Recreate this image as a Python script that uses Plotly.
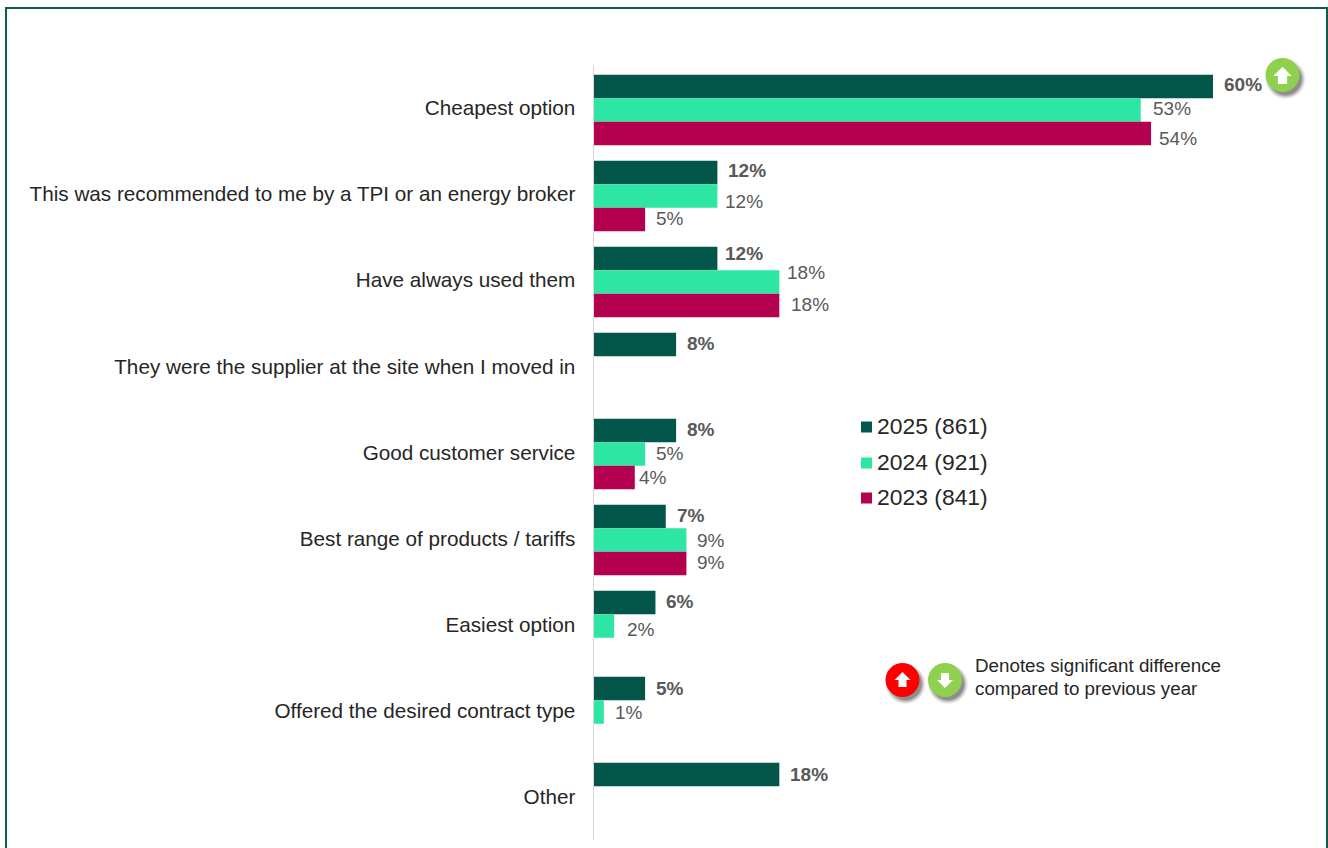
import plotly.graph_objects as go

categories = [
    "Cheapest option",
    "This was recommended to me by a TPI or an energy broker",
    "Have always used them",
    "They were the supplier at the site when I moved in",
    "Good customer service",
    "Best range of products / tariffs",
    "Easiest option",
    "Offered the desired contract type",
    "Other",
]
values_2025 = [60, 12, 12, 8, 8, 7, 6, 5, 18]
values_2024 = [53, 12, 18, None, 5, 9, 2, 1, None]
values_2023 = [54, 5, 18, None, 4, 9, None, None, None]
series_names = ["2025 (861)", "2024 (921)", "2023 (841)"]
note_lines = ["Denotes significant difference", "compared to previous year"]

# Page size and plot frame, in pixels
W, H = 1328, 848
PLOT_LEFT, PLOT_TOP, PLOT_BOTTOM = 593.5, 65, 840
PX_PER_PCT = 619.5 / 60
X_MAX = 70
BAND_PX = 86.0
BAR_DROP = 2 / BAND_PX  # bars sit slightly below the centre of their band
TICK_BAND_PX = 86.1     # category labels run on a slightly wider pitch than the bars

DARK = "#03564A"
MINT = "#2DE6A3"
CRIMSON = "#B5004F"
RED = "#FF0000"
LEAF = "#8FD14F"
BORDER = "#0B5D4E"
LABEL_GREY = "#595959"
TEXT = "#262626"
FONT = "Liberation Sans"


def px(x):
    return x / W


def py(y):
    return 1 - y / H


series = [
    (series_names[0], values_2025, DARK),
    (series_names[1], values_2024, MINT),
    (series_names[2], values_2023, CRIMSON),
]

# Label displacement from the end of each bar: (right, down) in pixels
nudges = [
    [(10, -1.5), (10, -1.5), (7, -4.5), (10, -1), (10, -1), (10, -1), (10, -1), (10, 0), (10, 0)],
    [(11, -1), (7, 6), (7, -9), None, (10, 0), (10, 0), (12, 3), (10, 0), None],
    [(7, 5), (10, -1), (11, -1), None, (3, 0), (10, -1), None, None, None],
]

fig = go.Figure()
positions = list(range(len(categories)))
for name, vals, color in series:
    fig.add_trace(go.Bar(
        y=positions, x=vals, name=name, orientation="h",
        marker=dict(color=color, line=dict(width=0)),
        showlegend=False, hoverinfo="x+name",
    ))

annotations = []
BAR_SHARE = (1 - 0.18) / 3
for s_idx, (name, vals, _) in enumerate(series):
    for i, v in enumerate(vals):
        if v is None:
            continue
        dx, dy = nudges[s_idx][i]
        annotations.append(dict(
            x=v, y=i + (s_idx - 1) * BAR_SHARE, xref="x", yref="y",
            text=f"<b>{v}%</b>" if s_idx == 0 else f"{v}%",
            showarrow=False, xanchor="left", yanchor="middle",
            xshift=dx - 1, yshift=-dy,
            font=dict(family=FONT, size=19, color=LABEL_GREY),
        ))

# Legend entries
shapes = []
for (name, _, color), y in zip(series, [427, 463, 498]):
    shapes.append(dict(type="rect", xref="paper", yref="paper",
                       x0=px(861), x1=px(872), y0=py(y - 5.5), y1=py(y + 5.5),
                       fillcolor=color, line=dict(width=0)))
    annotations.append(dict(
        x=px(876), y=py(y - 1), xref="paper", yref="paper", text=name,
        showarrow=False, xanchor="left", yanchor="middle", borderpad=0,
        font=dict(family=FONT, size=22.9, color=TEXT),
    ))

# Significance note text
for line, y in zip(note_lines, [665, 688]):
    annotations.append(dict(
        x=px(974), y=py(y), xref="paper", yref="paper", text=line,
        showarrow=False, xanchor="left", yanchor="middle", borderpad=0,
        font=dict(family=FONT, size=18.8, color=TEXT),
    ))


def badge(cx, cy, color, up=True, r=17, arrow_scale=1.0, arrow_drop=0.0):
    """Round badge with a soft drop shadow and a white arrow."""
    for grow, alpha in [(3, 0.06), (2, 0.08), (1, 0.10), (0, 0.14), (-1, 0.16)]:
        sr = r + grow
        shapes.append(dict(type="circle", xref="paper", yref="paper",
                           x0=px(cx + 3 - sr), x1=px(cx + 3 + sr),
                           y0=py(cy + 4 - sr), y1=py(cy + 4 + sr),
                           fillcolor="#000000", opacity=alpha, line=dict(width=0)))
    shapes.append(dict(type="circle", xref="paper", yref="paper",
                       x0=px(cx - r), x1=px(cx + r), y0=py(cy - r), y1=py(cy + r),
                       fillcolor=color, line=dict(width=0)))
    s = 1 if up else -1
    outline = [(0, -8), (8, 0), (4, 0), (4, 7), (-4, 7), (-4, 0), (-8, 0)]
    path = "M" + " L".join(
        f"{px(cx + a * arrow_scale)},{py(cy + arrow_drop + s * b * arrow_scale)}"
        for a, b in outline
    ) + " Z"
    shapes.append(dict(type="path", xref="paper", yref="paper", path=path,
                       fillcolor="#FFFFFF", line=dict(width=0)))


badge(1282.5, 75, LEAF, up=True, arrow_scale=1.15, arrow_drop=1)
badge(902.5, 680, RED, up=True)
badge(945, 680, LEAF, up=False)

# Outer frame, open past the bottom of the page
shapes.append(dict(type="rect", xref="paper", yref="paper",
                   x0=px(6), x1=px(1327), y0=py(8), y1=py(870),
                   line=dict(color=BORDER, width=2), fillcolor="rgba(0,0,0,0)"))

span = (PLOT_BOTTOM - PLOT_TOP) / BAND_PX
first_band_centre = (108 + 2 - PLOT_TOP) / BAND_PX  # offset of the first bar group from the top
y_top = -first_band_centre

fig.update_layout(
    width=W, height=H, autosize=False,
    margin=dict(l=0, r=0, t=0, b=0),
    paper_bgcolor="white", plot_bgcolor="white",
    barmode="group", bargap=0.18, bargroupgap=0,
    showlegend=False,
    annotations=annotations, shapes=shapes,
    font=dict(family=FONT),
    xaxis=dict(
        domain=[px(PLOT_LEFT), px(PLOT_LEFT + X_MAX * PX_PER_PCT)],
        range=[0, X_MAX], visible=False, fixedrange=True,
    ),
    yaxis=dict(
        domain=[py(PLOT_BOTTOM), py(PLOT_TOP)],
        range=[y_top + span, y_top],
        tickmode="array",
        tickvals=[p * TICK_BAND_PX / BAND_PX - BAR_DROP for p in positions],
        ticktext=categories,
        ticks="", ticklabelstandoff=13,
        showgrid=False, zeroline=False,
        showline=True, linecolor="#D9D9D9", linewidth=1,
        tickfont=dict(family=FONT, size=20.7, color=TEXT),
        fixedrange=True, anchor="x",
    ),
)

fig.write_html("out.html", config=dict(displayModeBar=False))
